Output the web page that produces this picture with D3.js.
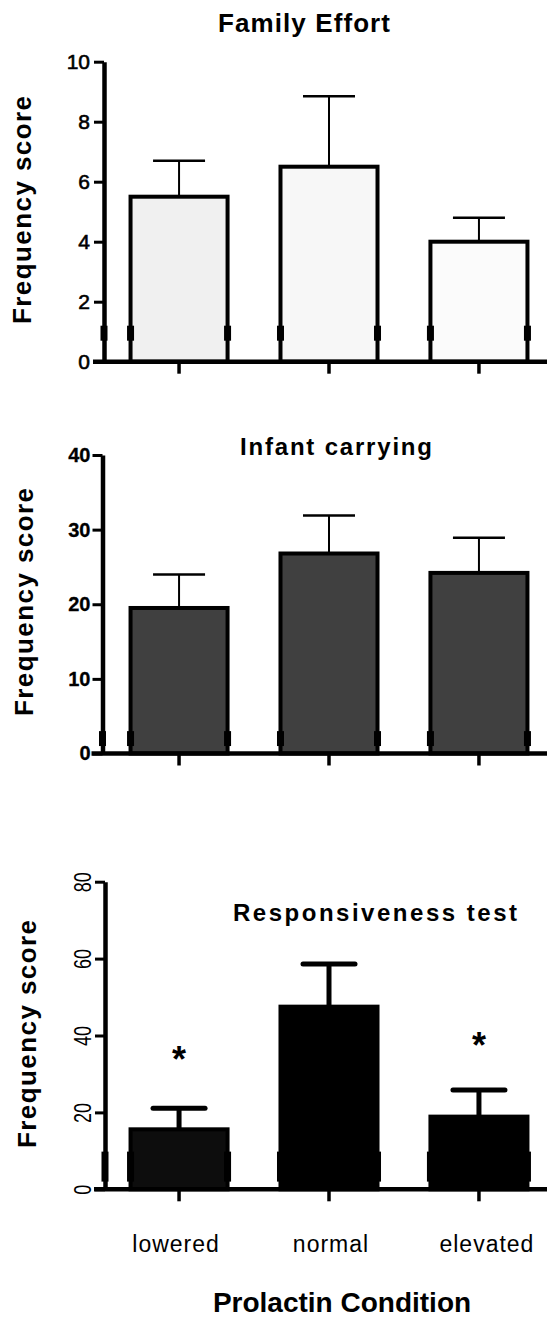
<!DOCTYPE html>
<html>
<head>
<meta charset="utf-8">
<script src="https://cdn.jsdelivr.net/npm/d3@7"></script>
<style>
  body { margin: 0; background: #fff; }
  text { font-family: "Liberation Sans", Arial, sans-serif; fill: #000; }
</style>
</head>
<body>
<script>
// categories (x axis)
const conditions = ["lowered", "normal", "elevated"];

// Family Effort
const familyMean = [5.5, 6.5, 4.0];
const familySem = [1.2, 2.35, 0.8];
const familyTicks = [0, 2, 4, 6, 8, 10];

// Infant carrying
const infantMean = [19.5, 26.8, 24.2];
const infantSem = [4.5, 5.1, 4.7];
const infantTicks = [0, 10, 20, 30, 40];

// Responsiveness test
const respMean = [15.6, 47.5, 18.9];
const respSem = [5.5, 11.1, 6.9];
const respTicks = [0, 20, 40, 60, 80];
const respStars = [35.7, null, 39.3];   // y of the "*" marks, in data units

const W = 547, H = 1317;
const svg = d3.select("body").append("svg")
	.attr("width", W)
	.attr("height", H);

const x = d3.scaleBand()
	.domain(conditions)
	.range([104, 554])
	.paddingInner(0.353)
	.paddingOuter(0.177);

function panel(o) {
	const g = svg.append("g");
	const y = d3.scaleLinear().domain([0, o.max]).range([o.y0, o.y1]);
	const ax = o.axisX;

	// bars
	g.selectAll("rect.bar")
		.data(o.mean)
		.join("rect")
		.attr("class", "bar")
		.attr("x", (d, i) => x(conditions[i]))
		.attr("width", x.bandwidth())
		.attr("y", d => y(d))
		.attr("height", d => y(0) - y(d))
		.attr("fill", (d, i) => o.fills[i])
		.attr("stroke", "#000")
		.attr("stroke-width", 4);

	// error bars (upper only)
	const eb = g.selectAll("g.err")
		.data(o.mean)
		.join("g")
		.attr("class", "err")
		.attr("transform", (d, i) => `translate(${x(conditions[i]) + x.bandwidth() / 2},0)`);
	eb.append("line")
		.attr("y1", d => y(d))
		.attr("y2", (d, i) => y(d + o.sem[i]))
		.attr("stroke", "#000")
		.attr("stroke-width", o.errW);
	eb.append("line")
		.attr("x1", -26).attr("x2", 26)
		.attr("y1", (d, i) => y(d + o.sem[i]))
		.attr("y2", (d, i) => y(d + o.sem[i]))
		.attr("stroke", "#000")
		.attr("stroke-width", o.capW)
		.attr("stroke-linecap", o.round ? "round" : "butt");

	// small thick blips near the base (axis break look)
	const edges = [ax];
	conditions.forEach(c => { edges.push(x(c)); edges.push(x(c) + x.bandwidth()); });
	g.selectAll("rect.blip")
		.data(edges)
		.join("rect")
		.attr("class", "blip")
		.attr("x", d => d - 3.5)
		.attr("width", 7)
		.attr("y", y(o.blip[1]))
		.attr("height", y(o.blip[0]) - y(o.blip[1]))
		.attr("fill", "#000");

	// y axis
	const yAxis = g.append("g")
		.attr("transform", `translate(${ax},0)`)
		.call(d3.axisLeft(y).tickValues(o.ticks).tickSize(10).tickSizeOuter(0).tickPadding(o.tickPad));
	yAxis.select(".domain").attr("stroke-width", 4.5);
	yAxis.selectAll(".tick line").attr("stroke-width", 3);
	yAxis.selectAll(".tick text")
		.attr("font-family", "'Liberation Sans', Arial, sans-serif")
		.attr("font-size", o.tickFont)
		.attr("font-weight", o.tickBold ? "bold" : "normal")
		.attr("stroke", "#000")
		.attr("stroke-width", o.tickStroke);
	if (o.rotateTicks) {
		yAxis.selectAll(".tick text")
			.attr("text-anchor", "middle")
			.attr("x", null)
			.attr("dy", null)
			.attr("transform", "translate(-14,0) rotate(-90) scale(1,1.3)");
	}

	// x axis line + ticks
	g.append("line")
		.attr("x1", ax - 11).attr("x2", W)
		.attr("y1", y(0)).attr("y2", y(0))
		.attr("stroke", "#000")
		.attr("stroke-width", 4.5);
	const xAxis = g.append("g")
		.attr("transform", `translate(0,${y(0)})`)
		.call(d3.axisBottom(x).tickSize(12).tickSizeOuter(0).tickFormat(""));
	xAxis.select(".domain").remove();
	xAxis.selectAll(".tick line").attr("stroke-width", 3.5);

	// titles
	g.append("text")
		.attr("x", o.titleX).attr("y", o.titleY)
		.attr("text-anchor", "middle")
		.attr("font-weight", "bold")
		.attr("font-size", o.titleFont)
		.attr("textLength", o.titleLen)
		.text(o.title);

	g.append("text")
		.attr("transform", `translate(${o.labelX},${o.labelY}) rotate(-90)`)
		.attr("text-anchor", "middle")
		.attr("font-weight", "bold")
		.attr("font-size", 26)
		.attr("textLength", 228)
		.text("Frequency score");

	return { g, y };
}

panel({
	mean: familyMean, sem: familySem, ticks: familyTicks, max: 10,
	y0: 361.7, y1: 61.7, axisX: 104,
	fills: ["#f0f0f0", "#f7f7f7", "#fbfbfb"],
	errW: 2, capW: 2.5, round: false, blip: [0.7, 1.2],
	tickFont: 21, tickBold: false, tickStroke: 0.6, tickPad: 4,
	title: "Family Effort", titleX: 304, titleY: 32, titleFont: 26, titleLen: 172,
	labelX: 31, labelY: 210
});

panel({
	mean: infantMean, sem: infantSem, ticks: infantTicks, max: 40,
	y0: 753.5, y1: 455, axisX: 102.5,
	fills: ["#404040", "#404040", "#404040"],
	errW: 2, capW: 2.5, round: false, blip: [1.0, 3.0],
	tickFont: 20, tickBold: true, tickStroke: 0.3, tickPad: 2,
	title: "Infant carrying", titleX: 336, titleY: 455, titleFont: 24, titleLen: 192,
	labelX: 33, labelY: 602
});

const p3 = panel({
	mean: respMean, sem: respSem, ticks: respTicks, max: 80,
	y0: 1189.3, y1: 881.7, axisX: 105,
	fills: ["#0d0d0d", "#000", "#000"],
	errW: 5, capW: 5, round: true, blip: [2.0, 9.8],
	tickFont: 18, tickBold: false, tickStroke: 0, tickPad: 3, rotateTicks: true,
	title: "Responsiveness test", titleX: 375, titleY: 921, titleFont: 24, titleLen: 284,
	labelX: 36, labelY: 1034
});

// significance stars
p3.g.selectAll("text.star")
	.data(respStars)
	.join("text")
	.attr("class", "star")
	.attr("x", (d, i) => x(conditions[i]) + x.bandwidth() / 2)
	.attr("y", d => d == null ? 0 : p3.y(d) + 20)
	.attr("text-anchor", "middle")
	.attr("font-size", 36)
	.attr("font-weight", "bold")
	.text(d => d == null ? "" : "*");

// category labels
const catNudge = [-3, 2, 8];
p3.g.selectAll("text.cat")
	.data(conditions)
	.join("text")
	.attr("class", "cat")
	.attr("x", (d, i) => x(d) + x.bandwidth() / 2 + catNudge[i])
	.attr("y", 1252)
	.attr("text-anchor", "middle")
	.attr("font-size", 23)
	.attr("letter-spacing", 1)
	.text(d => d);

svg.append("text")
	.attr("x", 342).attr("y", 1312)
	.attr("text-anchor", "middle")
	.attr("font-weight", "bold")
	.attr("font-size", 28)
	.text("Prolactin Condition");
</script>
</body>
</html>
